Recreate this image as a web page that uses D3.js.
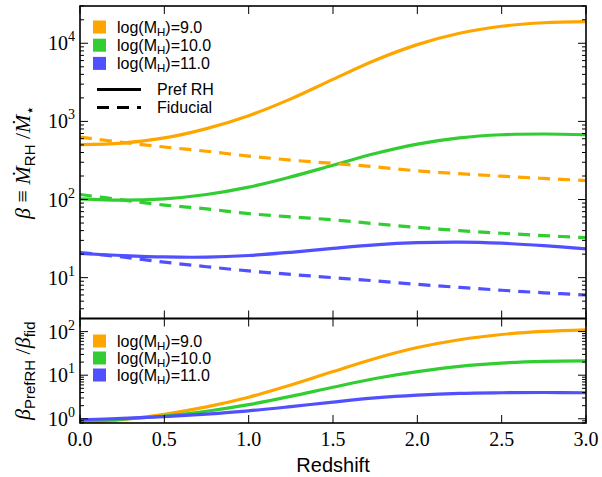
<!DOCTYPE html>
<html><head><meta charset="utf-8">
<script src="https://cdn.jsdelivr.net/npm/d3@7"></script>
<style>body{margin:0;background:#fff}</style>
</head><body>
<svg id="c" width="602" height="477"></svg>
<script>
// ---- data ----
const redshift = [0, 0.25, 0.5, 0.75, 1.0, 1.25, 1.5, 1.75, 2.0, 2.25, 2.5, 2.75, 3.0];
const massLabels = ["9.0", "10.0", "11.0"];
const colors = ["#ffa500", "#32cd32", "#5050ff"];
// top panel: beta (Pref RH, solid) and beta (Fiducial, dashed)
const prefRH_9  = [505, 528, 614, 809, 1183, 1941, 3451, 6067, 9616, 13430, 16520, 18320, 18970];
const prefRH_10 = [102, 98, 102, 116, 144, 195, 275, 388, 512, 615, 675, 690, 675];
const prefRH_11 = [20.4, 19.2, 18.4, 18.3, 19.2, 21.1, 23.7, 26.3, 28.0, 28.5, 27.6, 25.7, 23.4];
const fid_9  = [630, 540, 470, 415, 360, 320, 290, 262, 233, 214, 199, 186, 175];
const fid_10 = [116, 99, 85, 76, 66, 60, 55, 49, 44, 40, 37, 34.5, 32.5];
const fid_11 = [21, 18.4, 15.8, 13.8, 12.2, 11.0, 10.0, 9.1, 8.2, 7.5, 6.9, 6.4, 6.0];
// bottom panel: ratio beta_PrefRH / beta_fid
const ratio_9  = [0.82, 0.96, 1.27, 1.88, 3.12, 5.94, 12.1, 24.2, 43.1, 65.2, 85.9, 100.9, 109.9];
const ratio_10 = [0.88, 0.975, 1.16, 1.49, 2.11, 3.27, 5.30, 8.39, 12.1, 16.0, 19.0, 20.8, 21.4];
const ratio_11 = [0.95, 1.02, 1.12, 1.28, 1.52, 1.90, 2.42, 3.01, 3.49, 3.83, 3.96, 4.01, 3.96];
const xTicks = [0, 0.5, 1.0, 1.5, 2.0, 2.5, 3.0];
const topMajor = [10, 100, 1000, 10000];
const botMajor = [1, 10, 100];

const solids = [prefRH_9, prefRH_10, prefRH_11];
const dashes = [fid_9, fid_10, fid_11];
const ratios = [ratio_9, ratio_10, ratio_11];

// ---- layout ----
const L = 80, R = 586, T1 = 6, B1 = 318.5, T2 = 318.5, B2 = 423;
const svg = d3.select("#c");
const x = d3.scaleLinear().domain([0, 3]).range([L, R]);
const y1 = d3.scaleLog().domain([3, 30000]).range([B1, T1]);
const y2 = d3.scaleLog().domain([0.8, 200]).range([B2, T2]);

const serif = "'Liberation Serif', 'DejaVu Serif', serif";
const sans = "'Liberation Sans', Arial, sans-serif";

const defs = svg.append("defs");
defs.append("clipPath").attr("id", "cp1").append("rect").attr("x", L).attr("y", T1).attr("width", R - L).attr("height", B1 - T1);
defs.append("clipPath").attr("id", "cp2").append("rect").attr("x", L).attr("y", T2).attr("width", R - L).attr("height", B2 - T2);

function minorTicks(scale) {
  const [a, b] = scale.domain();
  const out = [];
  for (let e = Math.floor(Math.log10(a)); e <= Math.ceil(Math.log10(b)); e++) {
    for (let m = 1; m <= 9; m++) {
      const v = m * Math.pow(10, e);
      if (v >= a * 0.999 && v <= b * 1.001) out.push({ v, major: m === 1 });
    }
  }
  return out;
}

function panel(ys, top, bottom, clipId, series) {
  const g = svg.append("g");
  const line = d3.line().x((d, i) => x(redshift[i])).y(d => ys(d)).curve(d3.curveCatmullRom.alpha(0.5));
  const lg = g.append("g").attr("clip-path", `url(#${clipId})`);
  series.forEach(s => {
    lg.append("path").attr("d", line(s.data)).attr("fill", "none")
      .attr("stroke", s.color).attr("stroke-width", 3.2)
      .attr("stroke-dasharray", s.dash ? "12,8" : null);
  });
  minorTicks(ys).forEach(t => {
    const yy = ys(t.v), len = t.major ? 8 : 4;
    g.append("line").attr("x1", L).attr("x2", L + len).attr("y1", yy).attr("y2", yy).attr("stroke", "#000").attr("stroke-width", 1);
    g.append("line").attr("x1", R).attr("x2", R - len).attr("y1", yy).attr("y2", yy).attr("stroke", "#000").attr("stroke-width", 1);
  });
  xTicks.forEach(v => {
    const xx = x(v);
    g.append("line").attr("x1", xx).attr("x2", xx).attr("y1", top).attr("y2", top + 8).attr("stroke", "#000");
    g.append("line").attr("x1", xx).attr("x2", xx).attr("y1", bottom).attr("y2", bottom - 8).attr("stroke", "#000");
  });
  g.append("rect").attr("x", L).attr("y", top).attr("width", R - L).attr("height", bottom - top)
    .attr("fill", "none").attr("stroke", "#000").attr("stroke-width", 1.6);
  return g;
}

const topSeries = [];
solids.forEach((d, i) => topSeries.push({ data: d, color: colors[i], dash: false }));
dashes.forEach((d, i) => topSeries.push({ data: d, color: colors[i], dash: true }));
panel(y1, T1, B1, "cp1", topSeries);
panel(y2, T2, B2, "cp2", ratios.map((d, i) => ({ data: d, color: colors[i], dash: false })));

function yLabels(ys, vals) {
  vals.forEach(v => {
    const t = svg.append("text").attr("x", 75).attr("y", ys(v) + 7).attr("text-anchor", "end")
      .attr("font-family", serif).attr("font-size", 20);
    t.append("tspan").text("10");
    t.append("tspan").attr("font-size", 14).attr("dy", -9).text(Math.round(Math.log10(v)));
  });
}
yLabels(y1, topMajor);
yLabels(y2, botMajor);

xTicks.forEach(v => {
  svg.append("text").attr("x", x(v)).attr("y", 446).attr("text-anchor", "middle")
    .attr("font-family", serif).attr("font-size", 20).text(v.toFixed(1));
});
svg.append("text").attr("x", x(1.5)).attr("y", 472).attr("text-anchor", "middle")
  .attr("font-family", sans).attr("font-size", 20).text("Redshift");

{
  const t = svg.append("text").attr("transform", `translate(30,${(T1 + B1) / 2}) rotate(-90)`)
    .attr("text-anchor", "middle").attr("font-family", serif).attr("font-size", 22);
  t.append("tspan").attr("font-style", "italic").text("β");
  t.append("tspan").text(" ≡ ");
  t.append("tspan").attr("font-style", "italic").text("Ṁ");
  t.append("tspan").attr("font-family", sans).attr("font-size", 15).attr("dy", 5).text("RH");
  t.append("tspan").attr("dy", -5).text(" /");
  t.append("tspan").attr("font-style", "italic").text("Ṁ");
  t.append("tspan").attr("font-size", 15).attr("dy", 5).text("⋆");
}
{
  const t = svg.append("text").attr("transform", `translate(30,${(T2 + B2) / 2}) rotate(-90)`)
    .attr("text-anchor", "middle").attr("font-family", serif).attr("font-size", 22);
  t.append("tspan").attr("font-style", "italic").text("β");
  t.append("tspan").attr("font-family", sans).attr("font-size", 15).attr("dy", 5).text("PrefRH");
  t.append("tspan").attr("dy", -5).text(" /");
  t.append("tspan").attr("font-style", "italic").text("β");
  t.append("tspan").attr("font-family", sans).attr("font-size", 15).attr("dy", 5).text("fid");
}

function massLegend(y0, step) {
  massLabels.forEach((m, i) => {
    const cy = y0 + i * step;
    svg.append("rect").attr("x", 93).attr("y", cy - 6.5).attr("width", 13).attr("height", 13).attr("fill", colors[i]);
    const t = svg.append("text").attr("x", 117).attr("y", cy + 5.5).attr("font-family", sans).attr("font-size", 16);
    t.append("tspan").text("log(M");
    t.append("tspan").attr("font-size", 11.5).attr("dy", 3).text("H");
    t.append("tspan").attr("dy", -3).text(")=" + m);
  });
}
massLegend(27, 18.2);
massLegend(341, 17);

const styleLegend = [{ label: "Pref RH", dash: null, y: 89.5 }, { label: "Fiducial", dash: "12,8", y: 107.5 }];
styleLegend.forEach(s => {
  svg.append("line").attr("x1", 97).attr("x2", 141).attr("y1", s.y).attr("y2", s.y)
    .attr("stroke", "#000").attr("stroke-width", 3.2).attr("stroke-dasharray", s.dash);
  svg.append("text").attr("x", 157).attr("y", s.y + 5.5).attr("font-family", sans).attr("font-size", 16).text(s.label);
});
</script>
</body></html>
